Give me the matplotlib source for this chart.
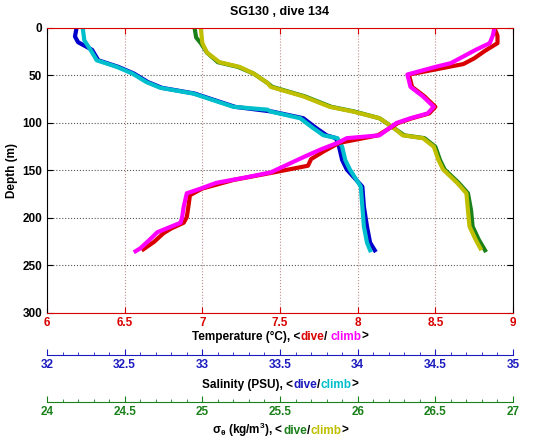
import numpy as np
import matplotlib.pyplot as plt

# temperature (deg C) vs depth (m)
t_dive_z = [0, 8, 16, 24, 32, 38, 49, 62, 72, 83, 90, 95, 100, 113, 121, 130, 138, 145, 152, 160, 169, 176, 188, 199, 205, 211, 216, 225, 233]
t_dive = [8.88, 8.90, 8.90, 8.82, 8.75, 8.68, 8.33, 8.35, 8.43, 8.50, 8.46, 8.35, 8.26, 8.13, 7.88, 7.78, 7.70, 7.68, 7.46, 7.20, 7.00, 6.92, 6.91, 6.90, 6.88, 6.80, 6.75, 6.69, 6.62]
t_climb_z = [0, 8, 16, 23, 30, 37, 41, 49, 62, 72, 83, 90, 95, 100, 113, 116, 121, 128, 136, 152, 157, 163, 169, 174, 188, 199, 205, 211, 215, 223, 232, 235]
t_climb = [8.88, 8.87, 8.85, 8.76, 8.68, 8.60, 8.50, 8.32, 8.34, 8.42, 8.49, 8.45, 8.34, 8.25, 8.14, 7.93, 7.87, 7.76, 7.65, 7.44, 7.29, 7.09, 6.99, 6.90, 6.88, 6.87, 6.86, 6.77, 6.71, 6.66, 6.60, 6.57]

# salinity (PSU)
s_dive_z = [0, 9, 15, 23, 34, 41, 48, 57, 63, 69, 76, 83, 88, 95, 105, 113, 116, 125, 139, 149, 167, 188, 209, 226, 234]
s_dive = [32.19, 32.18, 32.20, 32.29, 32.33, 32.46, 32.56, 32.65, 32.74, 32.95, 33.08, 33.21, 33.45, 33.65, 33.73, 33.80, 33.86, 33.88, 33.90, 33.93, 34.03, 34.04, 34.06, 34.08, 34.11]
s_climb_z = [0, 13, 23, 34, 41, 48, 57, 63, 69, 76, 83, 86, 88, 95, 105, 113, 116, 125, 139, 149, 167, 188, 209, 226, 234]
s_climb = [32.23, 32.24, 32.28, 32.32, 32.45, 32.55, 32.64, 32.73, 32.94, 33.07, 33.20, 33.42, 33.44, 33.63, 33.71, 33.78, 33.87, 33.90, 33.92, 33.95, 34.02, 34.03, 34.04, 34.06, 34.08]

# sigma-theta (kg/m3)
g_dive_z = [0, 10, 16, 26, 36, 41, 48, 58, 62, 72, 83, 88, 95, 105, 113, 116, 125, 139, 149, 163, 174, 192, 209, 223, 234]
g_dive = [24.95, 24.96, 24.99, 25.03, 25.10, 25.23, 25.33, 25.42, 25.45, 25.66, 25.83, 25.98, 26.14, 26.23, 26.30, 26.43, 26.50, 26.53, 26.56, 26.65, 26.71, 26.73, 26.74, 26.78, 26.82]
g_climb_z = [0, 16, 26, 36, 41, 48, 58, 62, 72, 83, 88, 95, 105, 113, 116, 125, 139, 149, 163, 174, 192, 209, 223, 232]
g_climb = [24.99, 25.00, 25.03, 25.11, 25.24, 25.33, 25.42, 25.44, 25.65, 25.82, 25.97, 26.14, 26.23, 26.29, 26.42, 26.49, 26.52, 26.55, 26.64, 26.70, 26.71, 26.72, 26.76, 26.79]

RED = (0.85, 0.0, 0.0)
MAG = (1.0, 0.0, 1.0)
BLUE = (0.1, 0.1, 0.75)
DBLUE = (0.0, 0.0, 0.8)
CYAN = (0.0, 0.75, 0.8)
GREEN = (0.1, 0.5, 0.1)
YEL = (0.75, 0.75, 0.0)

plt.rcParams['font.family'] = ['Liberation Sans', 'DejaVu Sans']
plt.rcParams['font.weight'] = 'bold'
plt.rcParams['axes.titleweight'] = 'bold'
plt.rcParams['axes.labelweight'] = 'bold'
plt.rcParams['font.size'] = 8.5
plt.rcParams['mathtext.fontset'] = 'custom'
plt.rcParams['mathtext.rm'] = 'Liberation Sans:bold'
plt.rcParams['mathtext.it'] = 'Liberation Sans:bold'
plt.rcParams['mathtext.bf'] = 'Liberation Sans:bold'

fig = plt.figure(figsize=(5.35, 4.42), dpi=100)
ax = fig.add_axes([0.0879, 0.2919, 0.871, 0.6448])

# salinity and density mapped onto the temperature axis (6-9)
def s2t(v):
    return 6 + (np.array(v) - 32)

def g2t(v):
    return 6 + (np.array(v) - 24)

lw = 3
ax.plot(s2t(s_dive), s_dive_z, color=DBLUE, lw=lw)
ax.plot(s2t(s_climb), s_climb_z, color=CYAN, lw=lw)
ax.plot(g2t(g_dive), g_dive_z, color=GREEN, lw=lw)
ax.plot(g2t(g_climb), g_climb_z, color=YEL, lw=lw)
ax.plot(t_dive, t_dive_z, color=RED, lw=lw)
ax.plot(t_climb, t_climb_z, color=MAG, lw=lw)

ax.set_xlim(6, 9)
ax.set_ylim(300, 0)
ax.set_xticks(np.arange(6, 9.01, 0.5))
ax.set_xticklabels(['6', '6.5', '7', '7.5', '8', '8.5', '9'], fontweight='bold')
ax.set_yticks(np.arange(0, 301, 50))
ax.set_yticklabels([str(v) for v in range(0, 301, 50)], fontweight='bold')
ax.tick_params(axis='x', colors=RED, direction='in', top=True, length=4, pad=3)
ax.tick_params(axis='y', colors='black', direction='in', right=True, length=4)
ax.xaxis.grid(True, linestyle=':', color=(0.75, 0.55, 0.55), lw=0.8)
ax.yaxis.grid(True, linestyle=':', color=(0.35, 0.35, 0.35), lw=0.8)
ax.spines['top'].set_color(RED)
ax.spines['bottom'].set_color(RED)
ax.set_ylabel('Depth (m)', labelpad=3, fontweight='bold')
ax.set_title('SG130 , dive 134', fontsize=9, pad=9, fontweight='bold')

# extra x axes for salinity and sigma
def extra_axis(y, lo, hi, col):
    a = fig.add_axes([0.0879, y, 0.871, 0.0001])
    a.set_xlim(lo, hi)
    a.set_yticks([])
    for s in ['top', 'left', 'right']:
        a.spines[s].set_visible(False)
    a.spines['bottom'].set_color(col)
    a.set_xticks(np.arange(lo, hi + 0.01, 0.5))
    a.set_xticks(np.arange(lo, hi + 0.01, 0.1), minor=True)
    a.set_xticklabels([('%g' % v) for v in np.arange(lo, hi + 0.01, 0.5)], fontweight='bold')
    a.tick_params(axis='x', which='both', colors=col, direction='in', pad=3)
    a.tick_params(axis='x', which='major', length=4)
    a.tick_params(axis='x', which='minor', length=2)
    a.patch.set_visible(False)
    return a

extra_axis(1 - 355 / 442, 32, 35, BLUE)
extra_axis(1 - 402 / 442, 24, 27, GREEN)

# multicolour axis labels, pieces laid side by side on one baseline
labels = [
    (1 - 340 / 442, [('Temperature (\u00b0C), <', 'black'), ('dive', RED),
                     ('/ ', 'black'), ('climb', MAG), ('>', 'black')]),
    (1 - 388 / 442, [('Salinity (PSU), <', 'black'), ('dive', BLUE),
                     ('/', 'black'), ('climb', CYAN), ('>', 'black')]),
    (1 - 434 / 442, [(r'$\sigma_\theta$ (kg/m$^3$), <', 'black'), ('dive', GREEN),
                     ('/', 'black'), ('climb', YEL), ('>', 'black')]),
]
fig.canvas.draw()
r = fig.canvas.get_renderer()
cx = (0.0879 + 0.871 / 2) * 535
for y, parts in labels:
    texts = [fig.text(0, y, s, color=c, ha='left', va='baseline', fontweight='bold')
             for s, c in parts]
    widths = [t.get_window_extent(r).width for t in texts]
    x = cx - sum(widths) / 2
    for t, w in zip(texts, widths):
        t.set_x(x / 535)
        x += w

fig.savefig('out.png', dpi=100)
